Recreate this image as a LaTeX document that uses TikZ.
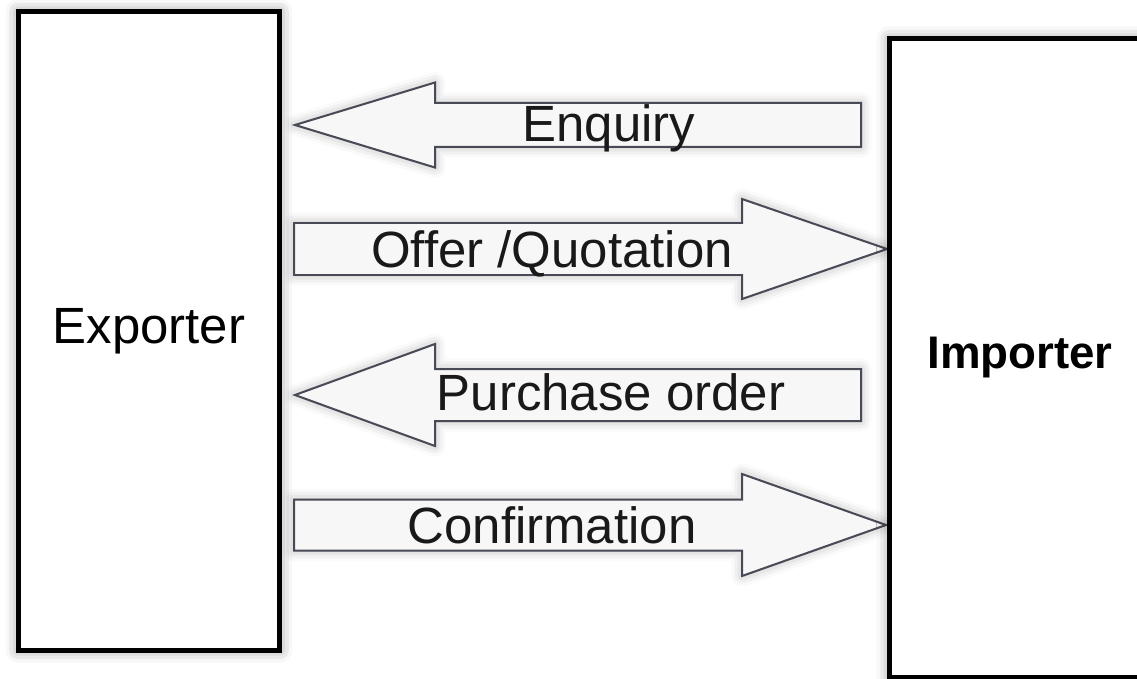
\documentclass[tikz,border=0pt]{standalone}
\usepackage{fontspec}
\setmainfont{Liberation Sans}
\usepackage{tikz}
\usetikzlibrary{shadows.blur}
\definecolor{arrowline}{RGB}{72,74,86}
\def\arrowleft[#1](#2,#3)(#4:#5:#6:#7){\draw[#1] (#2,#3) -- (#4,{#3-#7}) -- (#4,{#3-#6}) -- (#5,{#3-#6}) -- (#5,{#3+#6}) -- (#4,{#3+#6}) -- (#4,{#3+#7}) -- cycle;}
\def\arrowright[#1](#2,#3)(#4:#5:#6:#7){\draw[#1] (#2,{#3-#6}) -- (#4,{#3-#6}) -- (#4,{#3-#7}) -- (#5,#3) -- (#4,{#3+#7}) -- (#4,{#3+#6}) -- (#2,{#3+#6}) -- cycle;}
\tikzset{
	party/.style={draw=black, line width=0.1cm, fill=white, minimum width=5.24cm, minimum height=12.78cm, inner sep=0pt,
		blur shadow={shadow xshift=0pt, shadow yshift=0pt, shadow blur radius=7pt, shadow opacity=45}},
	msgarrow/.style={draw=arrowline, line width=0.04cm, fill=black!3,
		blur shadow={shadow xshift=0pt, shadow yshift=0pt, shadow blur radius=6pt, shadow opacity=30}},
	msgtext/.style={anchor=base, text=black!90, font=\fontsize{29}{34}\selectfont, inner sep=1pt}
}

\begin{document}
\begin{tikzpicture}[x=0.02cm, y=-0.02cm]
		%%%%% START %%%%%
		\useasboundingbox (0, 0) rectangle (1137, 679);
		
		\arrowleft[msgarrow](295, 125)(435:861:22:42.5);
		\arrowright[msgarrow](294, 249)(742:887:26:50);
		\arrowleft[msgarrow](295, 395)(435:861:26:51);
		\arrowright[msgarrow](294, 525)(742:886:25.5:51);
		
		\node[party, font=\fontsize{29}{34}\selectfont] (exporter) at (149, 331) {Exporter};
		\node[party, font=\fontsize{26}{31}\selectfont\bfseries] (importer) at (1020, 358) {Importer};
		
		\node[msgtext] (enquiry) at (609, 142) {Enquiry};
		\node[msgtext] (offer) at (552, 267) {Offer /Quotation};
		\node[msgtext] (order) at (611, 410) {Purchase order};
		\node[msgtext] (confirm) at (552, 543) {Confirmation};
		%%%%% END %%%%%
	\end{tikzpicture}
\end{document}
